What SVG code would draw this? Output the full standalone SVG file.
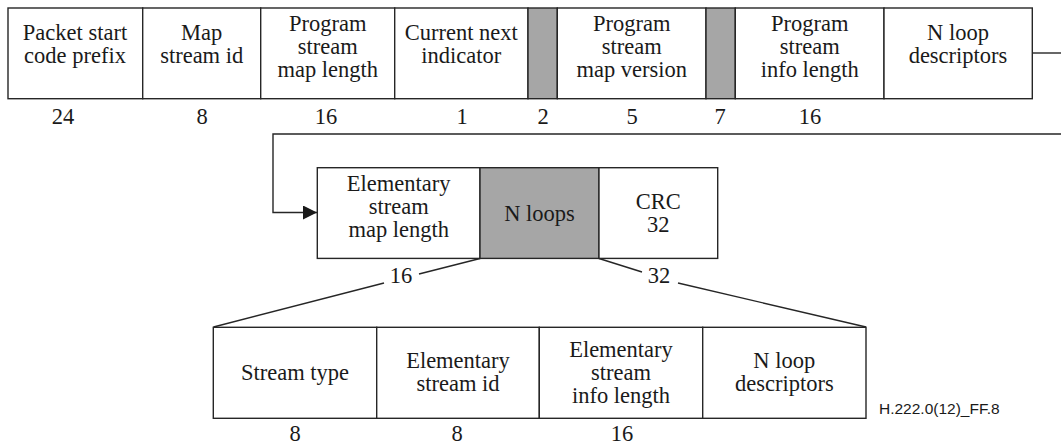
<svg xmlns="http://www.w3.org/2000/svg" width="1061" height="447" viewBox="0 0 1061 447">
<style>
.b{fill:#fff;stroke:#262626;stroke-width:1.4}
.g{fill:#a6a6a6;stroke:#262626;stroke-width:1.4}
.t{font-family:"Liberation Serif","Times New Roman",serif;font-size:22.5px;fill:#1a1a1a;text-anchor:middle}
.ln{fill:none;stroke:#262626;stroke-width:1.4}
.s{font-family:"Liberation Sans",Arial,sans-serif;font-size:15.5px;fill:#1a1a1a}
</style>
<defs>
<marker id="ah" markerWidth="14" markerHeight="14" refX="14" refY="7" orient="auto" markerUnits="userSpaceOnUse">
<path d="M0,0 L14,7 L0,14 Z" fill="#1a1a1a"/>
</marker>
</defs>
<rect width="1061" height="447" fill="#fff"/>

<g id="connectors">
<polyline class="ln" points="1032,53 1061,53"/>
<polyline class="ln" points="1061,134 273,134 273,212.5 317,212.5" marker-end="url(#ah)"/>
<line class="ln" x1="480" y1="258.5" x2="419" y2="274"/>
<line class="ln" x1="384" y1="283" x2="213.5" y2="327"/>
<line class="ln" x1="599" y1="258.5" x2="642" y2="272"/>
<line class="ln" x1="678" y1="283" x2="866" y2="327"/>
</g>

<g id="n1"><rect class="b" x="8" y="8" width="134.7" height="90.7"/>
<text class="t" x="75" y="40">Packet start</text><text class="t" x="75" y="63">code prefix</text></g>
<g id="n2"><rect class="b" x="142.7" y="8" width="118" height="90.7"/>
<text class="t" x="201.7" y="40">Map</text><text class="t" x="201.7" y="63">stream id</text></g>
<g id="n3"><rect class="b" x="260.7" y="8" width="134" height="90.7"/>
<text class="t" x="327.7" y="31">Program</text><text class="t" x="327.7" y="54">stream</text><text class="t" x="327.7" y="77">map length</text></g>
<g id="n4"><rect class="b" x="394.7" y="8" width="133.3" height="90.7"/>
<text class="t" x="461.3" y="40">Current next</text><text class="t" x="461.3" y="63">indicator</text></g>
<g id="n5"><rect class="g" x="528" y="8" width="29.3" height="90.7"/></g>
<g id="n6"><rect class="b" x="557.3" y="8" width="148.7" height="90.7"/>
<text class="t" x="631.7" y="31">Program</text><text class="t" x="631.7" y="54">stream</text><text class="t" x="631.7" y="77">map version</text></g>
<g id="n7"><rect class="g" x="706" y="8" width="29.3" height="90.7"/></g>
<g id="n8"><rect class="b" x="735.3" y="8" width="148.7" height="90.7"/>
<text class="t" x="809.7" y="31">Program</text><text class="t" x="809.7" y="54">stream</text><text class="t" x="809.7" y="77">info length</text></g>
<g id="n9"><rect class="b" x="884" y="8" width="148.3" height="90.7"/>
<text class="t" x="958" y="40">N loop</text><text class="t" x="958" y="63">descriptors</text></g>

<g id="bits1">
<text class="t" x="63" y="124">24</text>
<text class="t" x="202" y="124">8</text>
<text class="t" x="326" y="124">16</text>
<text class="t" x="462" y="124">1</text>
<text class="t" x="543" y="124">2</text>
<text class="t" x="632" y="124">5</text>
<text class="t" x="720" y="124">7</text>
<text class="t" x="810" y="124">16</text>
</g>

<g id="m1"><rect class="b" x="317.3" y="167.7" width="162.7" height="90.7"/>
<text class="t" x="398.7" y="191">Elementary</text><text class="t" x="398.7" y="214">stream</text><text class="t" x="398.7" y="237">map length</text></g>
<g id="m2"><rect class="g" x="480" y="167.7" width="119" height="90.7"/>
<text class="t" x="539.5" y="221">N loops</text></g>
<g id="m3"><rect class="b" x="599" y="167.7" width="118.7" height="90.7"/>
<text class="t" x="658.3" y="209">CRC</text><text class="t" x="658.3" y="232">32</text></g>
<text class="t" x="401" y="283">16</text>
<text class="t" x="659" y="283">32</text>

<g id="b1"><rect class="b" x="213.3" y="327.3" width="163.4" height="91"/>
<text class="t" x="295" y="380">Stream type</text></g>
<g id="b2"><rect class="b" x="376.7" y="327.3" width="162.6" height="91"/>
<text class="t" x="458" y="368">Elementary</text><text class="t" x="458" y="391">stream id</text></g>
<g id="b3"><rect class="b" x="539.3" y="327.3" width="163.4" height="91"/>
<text class="t" x="621" y="357">Elementary</text><text class="t" x="621" y="380">stream</text><text class="t" x="621" y="403">info length</text></g>
<g id="b4"><rect class="b" x="702.7" y="327.3" width="163.3" height="91"/>
<text class="t" x="784.3" y="368">N loop</text><text class="t" x="784.3" y="391">descriptors</text></g>

<g id="bits3">
<text class="t" x="295" y="441">8</text>
<text class="t" x="457" y="441">8</text>
<text class="t" x="622" y="441">16</text>
</g>
<text class="s" x="879" y="414">H.222.0(12)_FF.8</text>
</svg>
